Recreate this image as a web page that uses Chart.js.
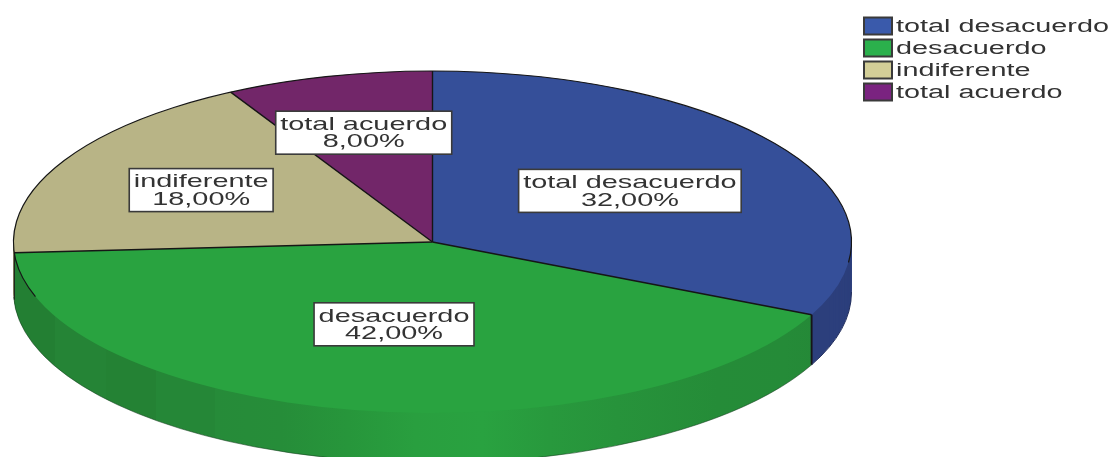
<!DOCTYPE html>
<html><head><meta charset="utf-8">
<style>html,body{margin:0;padding:0;background:#fff}canvas{display:block}</style>
<script src="https://cdn.jsdelivr.net/npm/chart.js@4"></script></head>
<body><canvas id="c" width="1113" height="457"></canvas>
<script>
const categories = ["total desacuerdo","desacuerdo","indiferente","total acuerdo"];
const values = [32,42,18,8];
const topColors = ["#354f99","#29a340","#b8b486","#722669"];
const legendColors = ["#3a5aab","#2bb04c","#d3ce97","#7a2380"];
const sideColors = ["#2c3f7c","#29a340","#8f8c68","#561d50"];
const labelFractions = [0.558,0.49,0.63,0.66];

const view = {cx:432.5, cy:242, rx:419, ry:171, depth:50};
const TEXT = "#333333";

function place(ctx, el, dy){
  ctx.translate(view.cx, view.cy + dy);
  ctx.scale(view.rx / el.outerRadius, view.ry / el.outerRadius);
  ctx.translate(-el.x, -el.y);
}
function stretchedText(ctx, text, x, y, size, stretch, align){
  ctx.save();
  ctx.font = size + 'px "Liberation Sans"';
  ctx.fillStyle = TEXT;
  ctx.textBaseline = "middle";
  ctx.textAlign = "left";
  const w = ctx.measureText(text).width * stretch;
  const left = align === "center" ? x - w / 2 : x;
  ctx.translate(left, y);
  ctx.scale(stretch, 1);
  ctx.fillText(text, 0, 0);
  ctx.restore();
  return w;
}
function greenWall(ctx, el){
  const g = ctx.createLinearGradient(el.x - el.outerRadius, 0, el.x + el.outerRadius, 0);
  const steps = [[0,"#237f33"],[.05,"#237f33"],[.05,"#258436"],[.11,"#258436"],[.11,"#248234"],[.17,"#248234"],
    [.17,"#258737"],[.24,"#258737"],[.24,"#268b39"],[.32,"#268d39"],[.40,"#27963b"],[.48,"#299f3f"],[.56,"#29a240"],
    [.64,"#28993d"],[.72,"#27933b"],[.84,"#258c38"],[.92,"#258b38"],[1,"#248636"]];
  steps.forEach(s => g.addColorStop(s[0], s[1]));
  return g;
}
const pie3d = {
  id:"pie3d",
  beforeDatasetsDraw(chart){
    const ctx = chart.ctx, arcs = chart.getDatasetMeta(0).data;
    for (let d = view.depth; d >= 1; d--) {
      arcs.forEach((el, i) => {
        ctx.save();
        place(ctx, el, d);
        const keep = el.options;
        el.options = Object.assign({}, keep, {
          backgroundColor: i === 1 ? greenWall(ctx, el) : sideColors[i], borderWidth:0
        });
        el.draw(ctx);
        el.options = keep;
        ctx.restore();
      });
    }
    ctx.save();
    place(ctx, arcs[0], 0);
  },
  afterDatasetsDraw(chart){
    const ctx = chart.ctx, arcs = chart.getDatasetMeta(0).data;
    ctx.restore();
    const {cx, cy, rx, ry, depth} = view;
    const pt = a => [cx + rx * Math.cos(a), cy + ry * Math.sin(a)];
    ctx.save();
    ctx.strokeStyle = "#161616";
    ctx.lineWidth = 1.4;
    arcs.forEach(el => {
      const p = pt(el.startAngle);
      ctx.beginPath(); ctx.moveTo(cx, cy); ctx.lineTo(p[0], p[1]); ctx.stroke();
    });
    ctx.lineWidth = 1.2;
    ctx.beginPath();
    ctx.ellipse(cx, cy, rx, ry, 0, 0.12, Math.PI - 0.325, true);
    ctx.stroke();
    const seam = pt(arcs[0].endAngle);
    ctx.lineWidth = 1.8;
    ctx.beginPath(); ctx.moveTo(seam[0], seam[1]); ctx.lineTo(seam[0], seam[1] + depth); ctx.stroke();
    const left = pt(arcs[1].endAngle);
    ctx.lineWidth = 1;
    ctx.beginPath(); ctx.moveTo(left[0], left[1]); ctx.lineTo(left[0], left[1] + depth - 3); ctx.stroke();
    ctx.strokeStyle = "rgba(20,60,30,.55)";
    ctx.beginPath();
    ctx.ellipse(cx, cy + depth, rx, ry, 0, 0.44, Math.PI - 0.03);
    ctx.stroke();
    ctx.strokeStyle = "#24305f";
    ctx.beginPath();
    ctx.ellipse(cx, cy + depth, rx, ry, 0, 0, 0.44);
    ctx.stroke();
    ctx.restore();
  },
  afterDraw(chart){
    const ctx = chart.ctx, arcs = chart.getDatasetMeta(0).data;
    const {cx, cy, rx, ry} = view;
    arcs.forEach((el, i) => {
      const mid = (el.startAngle + el.endAngle) / 2, f = labelFractions[i];
      const x = cx + rx * f * Math.cos(mid), y = cy + ry * f * Math.sin(mid);
      const pct = values[i].toFixed(2).replace(".", ",") + "%";
      const size = 19, stretch = 1.52;
      ctx.save();
      ctx.font = size + 'px "Liberation Sans"';
      const w = ctx.measureText(categories[i]).width * stretch + 9;
      ctx.fillStyle = "#fff";
      ctx.strokeStyle = "#3a3a3a";
      ctx.lineWidth = 1.6;
      ctx.fillRect(x - w / 2, y - 21.5, w, 43);
      ctx.strokeRect(x - w / 2, y - 21.5, w, 43);
      ctx.restore();
      stretchedText(ctx, categories[i], x, y - 8, size, stretch, "center");
      stretchedText(ctx, pct, x, y + 9.5, size, stretch, "center");
    });
    categories.forEach((name, i) => {
      const top = 17.5 + i * 22;
      ctx.save();
      ctx.fillStyle = legendColors[i];
      ctx.strokeStyle = "#3a3a3a";
      ctx.lineWidth = 2;
      ctx.fillRect(864, top, 28, 17);
      ctx.strokeRect(864, top, 28, 17);
      ctx.restore();
      stretchedText(ctx, name, 896, top + 10, 18, 1.6, "left");
    });
  }
};
new Chart(document.getElementById("c"), {
  type:"pie",
  data:{labels:categories, datasets:[{data:values, backgroundColor:topColors, borderWidth:0, clip:false}]},
  options:{responsive:false, animation:false, rotation:0,
    layout:{padding:0},
    plugins:{legend:{display:false}, tooltip:{enabled:false}}},
  plugins:[pie3d]
});
</script></body></html>
